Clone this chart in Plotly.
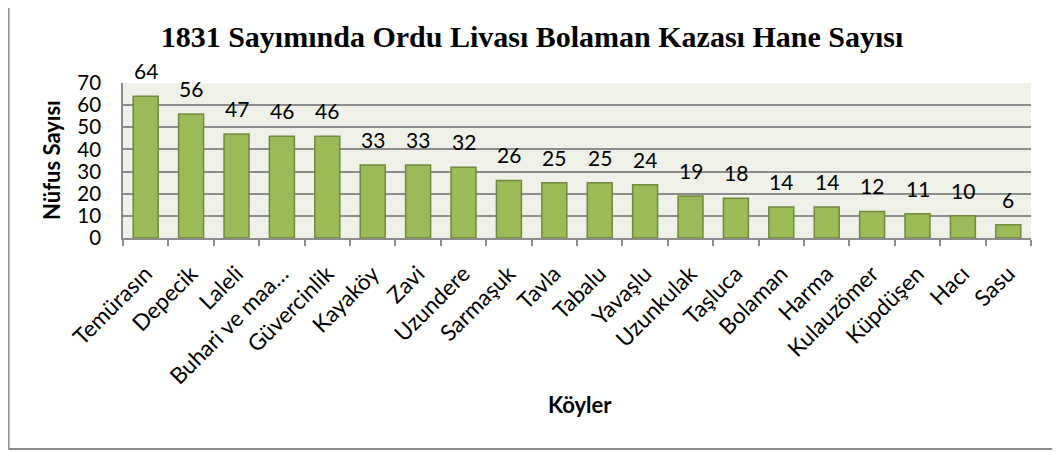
import plotly.graph_objects as go

villages = ["Temürasın", "Depecik", "Laleli", "Buhari ve maa…", "Güvercinlik", "Kayaköy",
            "Zavi", "Uzundere", "Sarmaşuk", "Tavla", "Tabalu", "Yavaşlu", "Uzunkulak",
            "Taşluca", "Bolaman", "Harma", "Kulauzömer", "Küpdüşen", "Hacı", "Sasu"]
households = [64, 56, 47, 46, 46, 33, 33, 32, 26, 25, 25, 24, 19, 18, 14, 14, 12, 11, 10, 6]
y_ticks = [0, 10, 20, 30, 40, 50, 60, 70]

title_text = "1831 Sayımında Ordu Livası Bolaman Kazası Hane Sayısı"
y_title = "Nüfus Sayısı"
x_title = "Köyler"

OFF = 8  # default page body margin
W, H = 1060 - OFF, 452 - OFF
L, R, T, B = 123 - OFF, 1031 - OFF, 83 - OFF, 238 - OFF
pw, ph = R - L, B - T

def px_x(x):
    return (x - OFF - L) / pw

def px_y(y):
    return (B - (y - OFF)) / ph

fig = go.Figure()
fig.add_trace(go.Bar(
    x=villages, y=households,
    marker=dict(color="#9BBB59", line=dict(color="#71893F", width=1.5)),
    hoverinfo="x+y",
))

annotations = []
for v, h in zip(villages, households):
    annotations.append(dict(x=v, y=h, xref="x", yref="y", text=str(h), showarrow=False,
                            yanchor="bottom", yshift=11,
                            font=dict(family="Lato", size=21, color="#000000")))
annotations.append(dict(x=px_x(51), y=px_y(160), xref="paper", yref="paper", text=f"<b>{y_title}</b>",
                        textangle=-90, showarrow=False, xanchor="center", yanchor="middle",
                        font=dict(family="Lato", size=22, color="#000000")))
annotations.append(dict(x=px_x(580), y=px_y(404), xref="paper", yref="paper", text=f"<b>{x_title}</b>",
                        showarrow=False, xanchor="center", yanchor="middle",
                        font=dict(family="Lato", size=22, color="#000000")))

shapes = [
    dict(type="line", xref="paper", yref="paper", x0=px_x(OFF + 0.5), x1=px_x(OFF + 0.5),
         y0=px_y(-20), y1=px_y(449), line=dict(color="#8C8C8C", width=2)),
    dict(type="line", xref="paper", yref="paper", x0=px_x(OFF + 0.5), x1=px_x(1080),
         y0=px_y(449), y1=px_y(449), line=dict(color="#8C8C8C", width=2)),
]

fig.update_layout(
    width=W, height=H,
    margin=dict(l=L, r=W - R, t=T, b=H - B, autoexpand=False),
    paper_bgcolor="#FFFFFF",
    plot_bgcolor="#EFF1E9",
    bargap=0.45,
    showlegend=False,
    title=dict(text=f"<b>{title_text}</b>", x=(532 - OFF) / W, xref="container", xanchor="center",
               y=1 - (36 - OFF) / H, yref="container", yanchor="middle",
               font=dict(family="Liberation Serif", size=30, color="#000000")),
    annotations=annotations,
    shapes=shapes,
)
fig.update_xaxes(
    tickangle=-45, tickfont=dict(family="Lato", size=22.5, color="#000000"),
    ticklabelstandoff=12,
    showline=True, linecolor="#8C8C8C", linewidth=1.5,
    ticks="outside", tickson="boundaries", ticklen=6, tickcolor="#8C8C8C", tickwidth=1.5,
    showgrid=False, automargin=False,
)
fig.update_yaxes(
    range=[0, 70], tickvals=y_ticks, ticktext=[str(t) for t in y_ticks],
    tickfont=dict(family="Lato", size=20.5, color="#000000"),
    ticklabelstandoff=16,
    showgrid=True, gridcolor="#8C8C8C", gridwidth=1.5,
    showline=True, linecolor="#8C8C8C", linewidth=1.5,
    ticks="", zeroline=False, automargin=False,
)

fig.write_html("out.html")
